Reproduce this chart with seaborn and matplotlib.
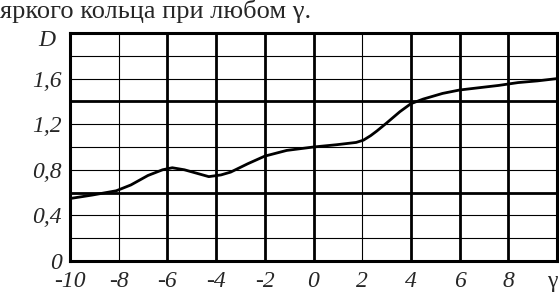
import matplotlib
matplotlib.use("Agg")
import matplotlib.pyplot as plt
import seaborn as sns

# curve
gamma = [-10, -9.1, -8.1, -7.5, -6.8, -6.2, -5.8, -5.3, -4.7, -4.3, -3.8, -3.4,
         -2.7, -2.0, -1.1, 0, 0.95, 1.75, 2.05, 2.35, 2.6, 3.0, 3.55, 4.0, 4.5,
         5.3, 6.0, 6.8, 7.6, 8.4, 9.2, 10]
D = [0.548, 0.578, 0.616, 0.667, 0.75, 0.80, 0.818, 0.80, 0.764, 0.74, 0.755, 0.78,
     0.853, 0.92, 0.97, 1.0, 1.02, 1.04, 1.06, 1.10, 1.14, 1.21, 1.31, 1.38, 1.42,
     1.47, 1.50, 1.52, 1.54, 1.565, 1.58, 1.60]

xticks = [-10, -8, -6, -4, -2, 0, 2, 4, 6, 8, 10]
xticklabels = ['-10', '-8', '-6', '-4', '-2', '0', '2', '4', '6', '8', 'γ']
yticks = [0, 0.4, 0.8, 1.2, 1.6]
yticklabels = ['0', '0,4', '0,8', '1,2', '1,6']

title = 'яркого кольца при любом γ.'

sns.set_style('white')
plt.rcParams['font.family'] = ['Liberation Serif', 'DejaVu Serif']

fig = plt.figure(figsize=(5.59, 2.92), dpi=100)
ax = fig.add_axes([70 / 559, 31 / 292, 487 / 559, 228 / 292])

# grid: thin / thick lines as in the scan
for xv in [-8, -6, -4, -2, 0, 2, 4, 6, 8]:
    lw = 0.8 if xv in (-8, 2) else 2.0
    ax.axvline(xv, color='black', lw=lw, zorder=1)
for yv in [0.2, 0.4, 0.6, 0.8, 1.0, 1.2, 1.4, 1.6, 1.8]:
    lw = 2.0 if yv in (0.6, 1.4) else 0.8
    ax.axhline(yv, color='black', lw=lw, zorder=1)

sns.lineplot(x=gamma, y=D, color='black', lw=2.0, ax=ax, zorder=3)
for ln in ax.lines:
    ln.set_solid_joinstyle('round')

ax.set_xlim(-10, 10)
ax.set_ylim(0, 2.0)
ax.set_xticks(xticks)
ax.set_xticklabels(xticklabels, fontsize=17, style='italic')
ax.set_yticks(yticks)
ax.set_yticklabels(yticklabels, fontsize=17, style='italic')
ax.tick_params(axis='x', length=0, pad=7)
ax.tick_params(axis='y', length=0, pad=6)
ax.get_xticklabels()[-1].set_horizontalalignment('right')
ax.get_xticklabels()[-1].set_style('normal')
ax.set_xlabel('')
ax.set_ylabel('')
for s in ax.spines.values():
    s.set_visible(True)
    s.set_color('black')
    s.set_linewidth(2.2)

ax.text(-0.03, 0.965, 'D', transform=ax.transAxes, ha='right', va='center',
        fontsize=17, style='italic')

fig.text(0.0, 1 - 18 / 292, title, ha='left', va='baseline', fontsize=19)

fig.savefig('out.png', dpi=100, facecolor='white')
